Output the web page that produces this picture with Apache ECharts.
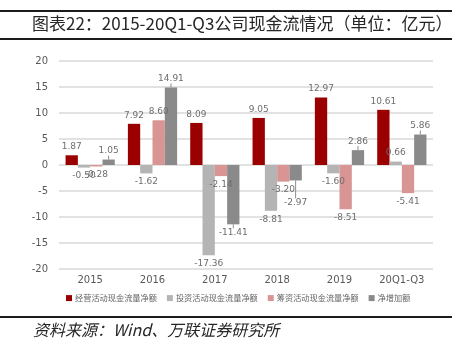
<!DOCTYPE html>
<html>
<head>
<meta charset="utf-8">
<script src="https://cdn.jsdelivr.net/npm/echarts@6/dist/echarts.min.js"></script>
<style>
  html, body { margin: 0; padding: 0; background: #fff; }
  #chart { width: 462px; height: 346px; }
</style>
</head>
<body>
<div id="chart"></div>
<script>
// Cash flow by year (unit: 100 million yuan)
const categories = ['2015', '2016', '2017', '2018', '2019', '20Q1-Q3'];
const operating = [1.87, 7.92, 8.09, 9.05, 12.97, 10.61];
const investing = [-0.50, -1.62, -17.36, -8.81, -1.60, 0.66];
const financing = [-0.28, 8.60, -2.14, -3.20, -8.51, -5.41];
const netIncrease = [1.05, 14.91, -11.41, -2.97, 2.86, 5.86];
const seriesNames = ['经营活动现金流量净额', '投资活动现金流量净额', '筹资活动现金流量净额', '净增加额'];
const yTicks = { min: -20, max: 20, step: 5 };

const colors = ['#9a0000', '#b4b4b4', '#d99594', '#8a8a8a'];
const labelFont = 'DejaVu Sans';

function makeSeries(name, values, color, extra) {
  return Object.assign({
    name: name,
    type: 'bar',
    data: values,
    barGap: '0%',
    barCategoryGap: '21%',
    itemStyle: { color: color },
    label: {
      show: true,
      position: 'top',
      distance: 4,
      color: '#6e6e6e',
      fontSize: 9,
      fontFamily: labelFont,
      formatter: p => p.value.toFixed(2)
    }
  }, extra || {});
}

function withSignedLabels(values) {
  return values.map(v => ({
    value: v,
    label: { position: v < 0 ? 'bottom' : 'top' }
  }));
}

// page rules above and below the heading and above the source line
function rule(y) {
  return {
    type: 'line', silent: true,
    shape: { x1: 0, y1: y, x2: 452, y2: y },
    style: { stroke: '#1c1c1c', lineWidth: 2 }
  };
}

const chart = echarts.init(document.getElementById('chart'), null, { renderer: 'canvas' });

chart.setOption({
  animation: false,
  color: colors,
  grid: { left: 59, right: 29, top: 61, bottom: 77, containLabel: false },
  xAxis: {
    type: 'category',
    data: categories,
    axisLine: { show: false, onZero: false },
    axisTick: { show: false },
    axisLabel: { color: '#595959', fontSize: 10, fontFamily: labelFont, margin: 6 }
  },
  yAxis: {
    type: 'value',
    min: yTicks.min,
    max: yTicks.max,
    interval: yTicks.step,
    axisLine: { show: false },
    axisTick: { show: false },
    axisLabel: { color: '#595959', fontSize: 10, fontFamily: labelFont, margin: 11 },
    splitLine: { lineStyle: { color: '#d9d9d9', width: 1.5 } }
  },
  legend: {
    data: seriesNames,
    left: 61,
    top: 289,
    itemWidth: 6,
    itemHeight: 6,
    itemGap: 10,
    icon: 'rect',
    textStyle: { color: '#666', fontSize: 8.2, fontFamily: 'Noto Sans CJK SC', padding: [0, 0, 0, -2] }
  },
  series: [
    makeSeries(seriesNames[0], withSignedLabels(operating), colors[0]),
    makeSeries(seriesNames[1], withSignedLabels(investing), colors[1]),
    makeSeries(seriesNames[2], withSignedLabels(financing), colors[2]),
    makeSeries(seriesNames[3], withSignedLabels(netIncrease), colors[3], {
      labelLayout: p => (p.dataIndex === 3 ? { dy: 14 } : {}),
      labelLine: { show: true, lineStyle: { color: '#8c8c8c', width: 1 } }
    })
  ],
  graphic: [
    rule(11),
    rule(39),
    rule(317),
    {
      type: 'text', left: 32, top: 15,
      style: {
        text: '图表22：2015-20Q1-Q3公司现金流情况（单位：亿元）',
        fill: '#262626', fontSize: 17, fontFamily: 'Noto Sans CJK SC'
      }
    },
    {
      type: 'text', left: 33, top: 322,
      style: {
        text: '资料来源：Wind、万联证券研究所',
        fill: '#262626', fontSize: 16, fontStyle: 'italic', fontFamily: 'Noto Sans CJK SC'
      }
    }
  ]
});
</script>
</body>
</html>
